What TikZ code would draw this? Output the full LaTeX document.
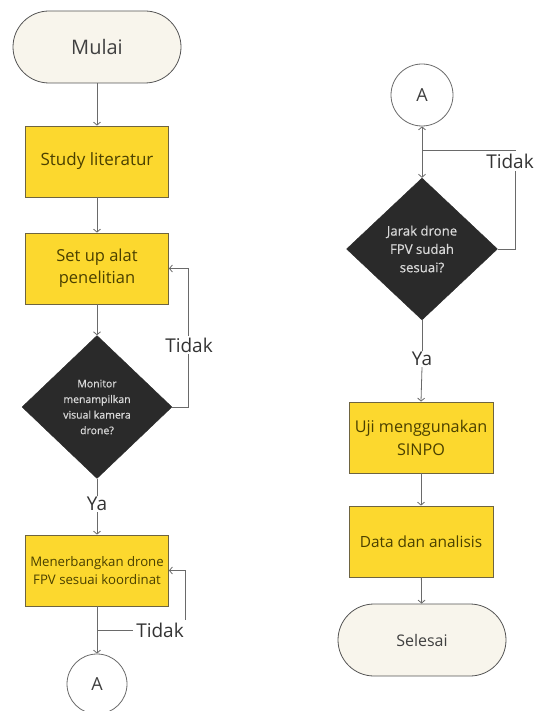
\documentclass[tikz,border=0pt]{standalone}
\usepackage{fontspec}
\setmainfont{Open Sans}
\newfontfamily\diafont[FakeBold=0.4]{Open Sans}
\usetikzlibrary{shapes.geometric,arrows.meta}
\definecolor{boxy}{HTML}{FCD82E}
\definecolor{boxline}{HTML}{6E6440}
\definecolor{boxtext}{HTML}{4A4000}
\definecolor{term}{HTML}{F8F5EC}
\definecolor{termline}{HTML}{555555}
\definecolor{dia}{HTML}{2A2A2A}
\definecolor{conn}{HTML}{6A6A6A}
\begin{document}
\begin{tikzpicture}[x=1pt,y=-1pt,
  terminalbox/.style={draw=termline, fill=term, rounded corners=36pt, minimum width=168pt, minimum height=72pt, line width=0.8pt, text=black!75},
  procbox/.style={draw=boxline, fill=boxy, minimum width=143pt, minimum height=71pt, line width=0.8pt, text=boxtext, align=center, inner sep=2pt},
  decision/.style={diamond, fill=dia, draw=dia, minimum width=150pt, minimum height=143pt, inner sep=0pt, text=white!85!black, align=center},
  connector/.style={draw=conn, circle, minimum size=60pt, fill=white, line width=0.8pt, font=\fontsize{18}{22}\selectfont, text=black!75},
  lbl/.style={fill=white, inner sep=2pt, font=\fontsize{19}{23}\selectfont, text=black!80},
  arr/.style={draw=conn, line width=0.8pt, -{Straight Barb[length=3pt,width=7pt]}},
  ln/.style={draw=conn, line width=0.8pt}]
\useasboundingbox (0,0) rectangle (535,711);
% left column
\node[terminalbox, font=\fontsize{20}{24}\selectfont] (mulai) at (97,47) {Mulai};
\node[procbox, font=\fontsize{17}{22}\selectfont] (study) at (97,161.5) {Study literatur};
\node[procbox, font=\fontsize{16.5}{22}\selectfont] (setup) at (97,268.5) {Set up alat\\penelitian};
\node[decision, font=\diafont\fontsize{10.5}{15.6}\selectfont] (monitor) at (97,407) {Monitor\\menampilkan\\visual kamera\\drone?};
\node[lbl, inner sep=1pt] (ya1) at (97,504) {Ya};
\node[procbox, font=\fontsize{13.2}{18}\selectfont] (fly) at (97,570.5) {Menerbangkan drone\\FPV sesuai koordinat};
\node[connector] (a1) at (97,684) {A};
\coordinate (j1) at (97,630);
\coordinate (c1) at (188,407);
\coordinate (c2) at (185,630);

\draw[arr] (mulai) -- (study);
\draw[arr] (study) -- (setup);
\draw[arr] (setup) -- (monitor);
\draw[ln] (monitor.south) -- (ya1.north);
\draw[arr] (ya1.south) -- (fly.north);
\draw[arr] (monitor.east) -- (c1) |- (setup.east);
\draw[arr] (fly.south) -- (a1.north);
\draw[arr] (j1) -- (c2) |- (fly.east);
\node[lbl] (tidak1) at (189,345) {Tidak};
\node[lbl, inner sep=3pt] (tidak2) at (160,630) {Tidak};

% right column
\node[connector, minimum size=62pt] (a2) at (422,95) {A};
\node[decision, minimum width=151pt, minimum height=142pt, font=\diafont\fontsize{13.2}{18.3}\selectfont] (jarak) at (422,249) {Jarak drone\\FPV sudah\\sesuai?};
\node[lbl, inner sep=1pt] (ya2) at (422,359) {Ya};
\node[procbox, minimum width=144pt, font=\fontsize{16.2}{23}\selectfont] (uji) at (421,437.5) {Uji menggunakan\\SINPO};
\node[procbox, minimum width=144pt, font=\fontsize{15.4}{22}\selectfont] (data) at (421,541.5) {Data dan analisis};
\node[terminalbox, font=\fontsize{16}{20}\selectfont] (selesai) at (422,640) {Selesai};
\coordinate (j2) at (422,150);
\coordinate (c3) at (515,249);

\draw[arr] (j2) -- (jarak.north);
\draw[arr] (jarak.east) -- (c3) |- (j2) -- (a2.south);
\node[lbl, inner sep=3pt] (tidak3) at (510,161) {Tidak};
\draw[ln] (jarak.south) -- (ya2.north);
\draw[arr] (ya2.south) -- (uji.north);
\draw[arr] (uji) -- (data);
\draw[arr] (data) -- (selesai);
\end{tikzpicture}
\end{document}
